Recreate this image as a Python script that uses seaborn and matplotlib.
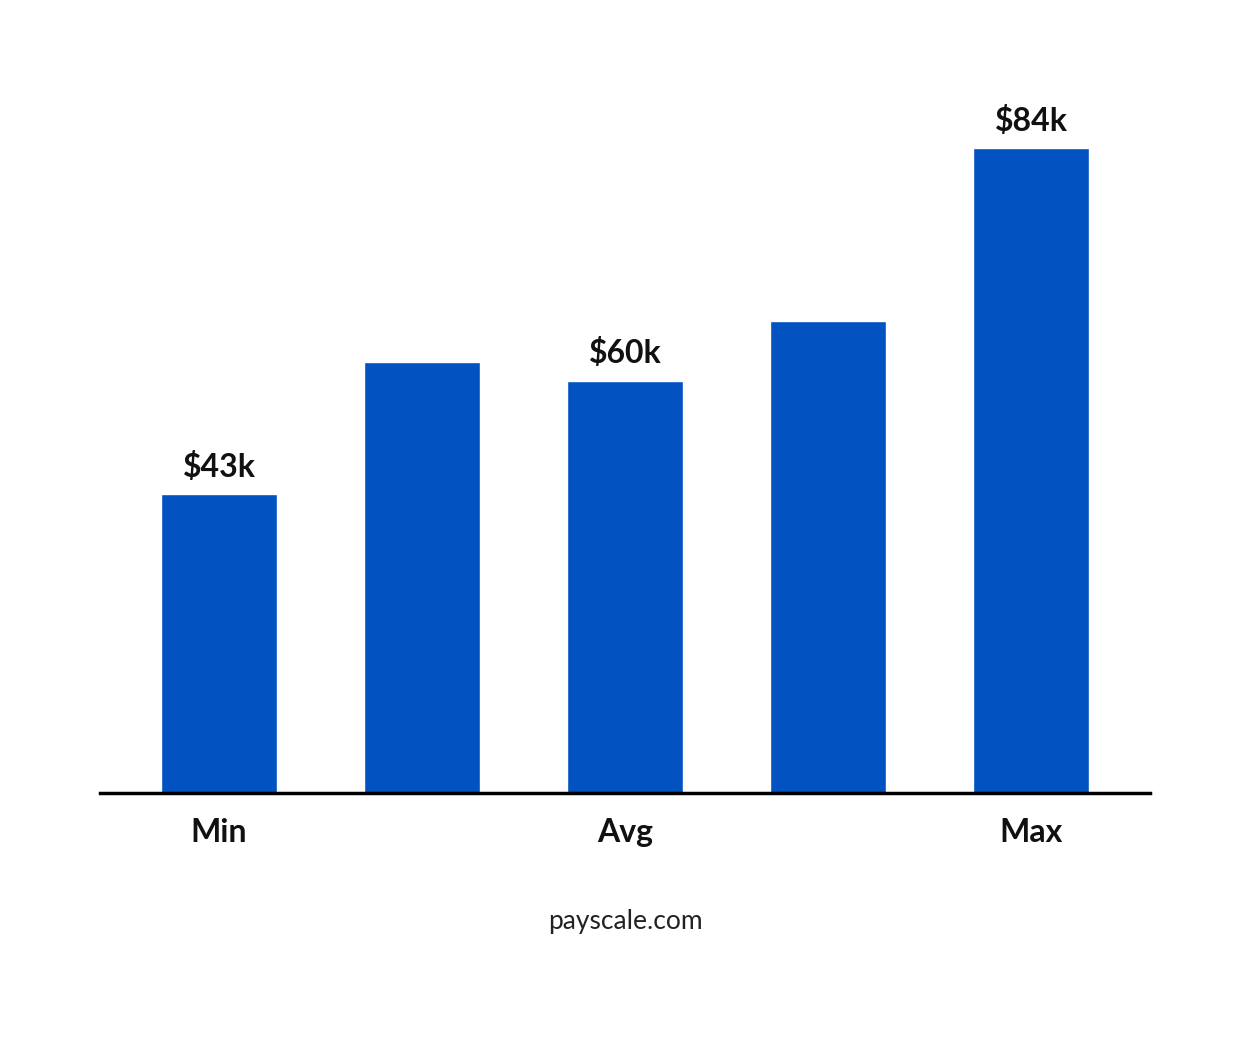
import matplotlib
matplotlib.use("Agg")
import matplotlib.pyplot as plt
import seaborn as sns
import pandas as pd

categories = ["Min", "p25", "Avg", "p75", "Max"]
tick_labels = ["Min", "", "Avg", "", "Max"]
heights = [43, 62, 59.3, 67.9, 92.8]   # visual bar heights
value_labels = ["$43k", "", "$60k", "", "$84k"]

sns.set_theme(style="white")
plt.rcParams['font.family'] = ['Lato', 'DejaVu Sans']

fig = plt.figure(figsize=(12.5, 10.42), dpi=100)
ax = fig.add_axes([0.08, 1 - 793/1042, 0.84, 695/1042])
df = pd.DataFrame({"cat": categories, "h": heights})
sns.barplot(data=df, x="cat", y="h", color="#0352C1", saturation=1, width=0.567, ax=ax)
ax.set_xlim(-0.586, 4.586)
ax.set_ylim(0, 100)
for i, (h, lab) in enumerate(zip(heights, value_labels)):
    if lab:
        ax.text(i, h + 1.8, lab, ha="center", va="bottom", fontsize=23, fontweight="bold", color="#111111")
ax.set_xticks(range(5))
ax.set_xticklabels(tick_labels, fontsize=23, fontweight="bold", color="#111111")
ax.tick_params(axis="x", length=0, pad=18)
ax.set_yticks([])
ax.set_xlabel(""); ax.set_ylabel("")
for s in ["top", "right", "left"]:
    ax.spines[s].set_visible(False)
ax.spines["bottom"].set_color("black")
ax.spines["bottom"].set_linewidth(2.5)
fig.text(0.5, 1 - 921/1042, "payscale.com", ha="center", va="center", fontsize=19, color="#222222")
fig.savefig("out.png", dpi=100, facecolor="white")
